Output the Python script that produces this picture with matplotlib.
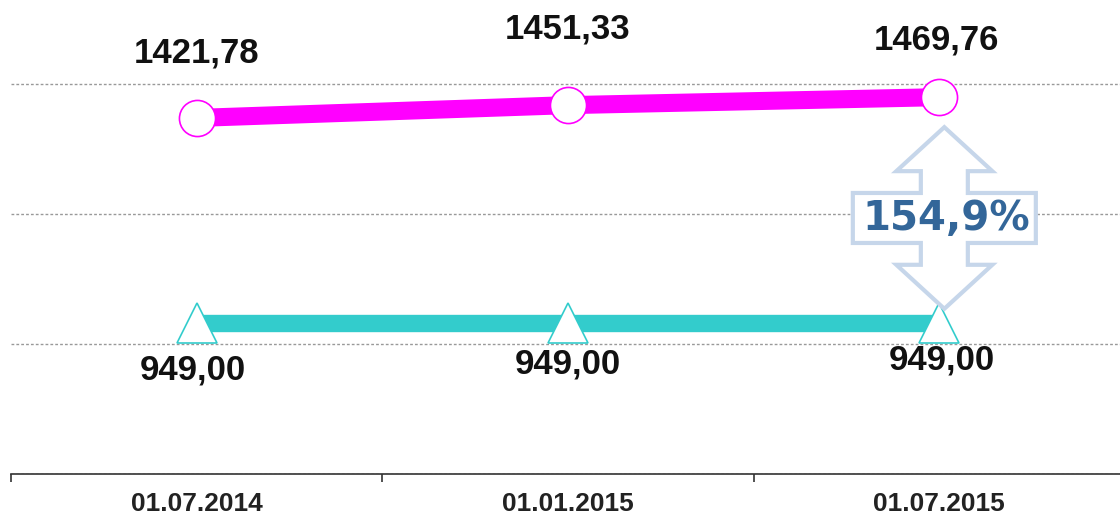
import matplotlib
matplotlib.use("Agg")
import matplotlib.pyplot as plt
from matplotlib.patches import Polygon
import numpy as np

plt.rcParams['font.family'] = ['Liberation Sans', 'DejaVu Sans']

# ---- data ----
categories = ["01.07.2014", "01.01.2015", "01.07.2015"]
series_top = [1421.78, 1451.33, 1469.76]
series_bottom = [949.00, 949.00, 949.00]
top_labels = ["1421,78", "1451,33", "1469,76"]
bottom_labels = ["949,00", "949,00", "949,00"]
ratio_label = "154,9%"
y_ticks = [600, 900, 1200, 1500]

# ---- layout / style ----
top_offsets = [(0, 47), (0, 55), (-2, 41.5)]
bottom_offsets = [(-3, -34), (0, -30), (2, -27)]
MAGENTA = "#ff00ff"
TEAL = "#33cccc"

W, H = 1120, 519
fig = plt.figure(figsize=(W / 100, H / 100), dpi=100)
ax = fig.add_axes([11 / W, 45 / H, 1114 / W, 474 / H])

x = np.arange(len(categories))
ax.set_xlim(-0.5, len(categories) - 0.5)
ax.set_ylim(600, 1694)

ax.plot(x, series_top, color=MAGENTA, lw=13, solid_capstyle='butt', zorder=3)
ax.plot(x, series_top, ls='none', marker='o', ms=26, mfc='white', mec=MAGENTA, mew=1.2, zorder=4)
ax.plot(x, series_bottom, color=TEAL, lw=12.5, solid_capstyle='butt', zorder=3)
ax.plot(x, series_bottom, ls='none', marker='^', ms=28.5, mfc='white', mec=TEAL, mew=1.2, zorder=4)

for xi, v, lab, off in zip(x, series_top, top_labels, top_offsets):
    ax.annotate(lab, (xi, v), xytext=off, textcoords='offset points', ha='center', va='center',
                fontsize=25, fontweight='bold', color='#111111', zorder=5)
for xi, v, lab, off in zip(x, series_bottom, bottom_labels, bottom_offsets):
    ax.annotate(lab, (xi, v), xytext=off, textcoords='offset points', ha='center', va='center',
                fontsize=25, fontweight='bold', color='#111111', zorder=5)

# grid
ax.set_yticks(y_ticks)
ax.tick_params(axis='y', left=False, labelleft=False)
ax.yaxis.grid(True, color='#999999', lw=1, ls=(0, (2, 1.5)))
ax.set_axisbelow(True)
for s in ['left', 'right', 'top']:
    ax.spines[s].set_visible(False)
ax.spines['bottom'].set_color('#333333')
ax.spines['bottom'].set_linewidth(1.2)
ax.spines['bottom'].set_zorder(6)

ax.set_xticks(x)
ax.set_xticklabels(categories, fontsize=19, fontweight='bold', color='#222222')
ax.set_xticks(np.arange(-0.5, len(categories), 1.0), minor=True)
ax.tick_params(axis='x', which='major', length=0, pad=13)
ax.tick_params(axis='x', which='minor', length=6, width=1.2, color='#333333', direction='out')

# double arrow between last points (built in display pixels)
fig.canvas.draw()
px_top = ax.transData.transform((x[-1], series_top[-1]))
px_bot = ax.transData.transform((x[-1], series_bottom[-1]))
cx = px_top[0] + 5
y_hi = px_top[1] - 30   # tip near circle
y_lo = px_bot[1] + 14   # tip near triangle
ym = (y_hi + y_lo) / 2
head_len, head_hw, shaft_hw, box_hw, box_hh = 44, 48, 23.5, 91.5, 25
pts = [
    (cx, y_hi),
    (cx + head_hw, y_hi - head_len),
    (cx + shaft_hw, y_hi - head_len),
    (cx + shaft_hw, ym + box_hh),
    (cx + box_hw, ym + box_hh),
    (cx + box_hw, ym - box_hh),
    (cx + shaft_hw, ym - box_hh),
    (cx + shaft_hw, y_lo + head_len),
    (cx + head_hw, y_lo + head_len),
    (cx, y_lo),
    (cx - head_hw, y_lo + head_len),
    (cx - shaft_hw, y_lo + head_len),
    (cx - shaft_hw, ym - box_hh),
    (cx - box_hw, ym - box_hh),
    (cx - box_hw, ym + box_hh),
    (cx - shaft_hw, ym + box_hh),
    (cx - shaft_hw, y_hi - head_len),
    (cx - head_hw, y_hi - head_len),
]
arrow = Polygon(pts, closed=True, transform=None, facecolor='white', edgecolor='#c6d6ea',
                lw=3, joinstyle='miter', zorder=7)
fig.add_artist(arrow)
fig.text((cx + 2) / W, (ym - 1) / H, ratio_label, ha='center', va='center', fontsize=29,
         fontweight='bold', color='#336699', family=['DejaVu Sans'], zorder=8)

fig.savefig("out.png", dpi=100)
